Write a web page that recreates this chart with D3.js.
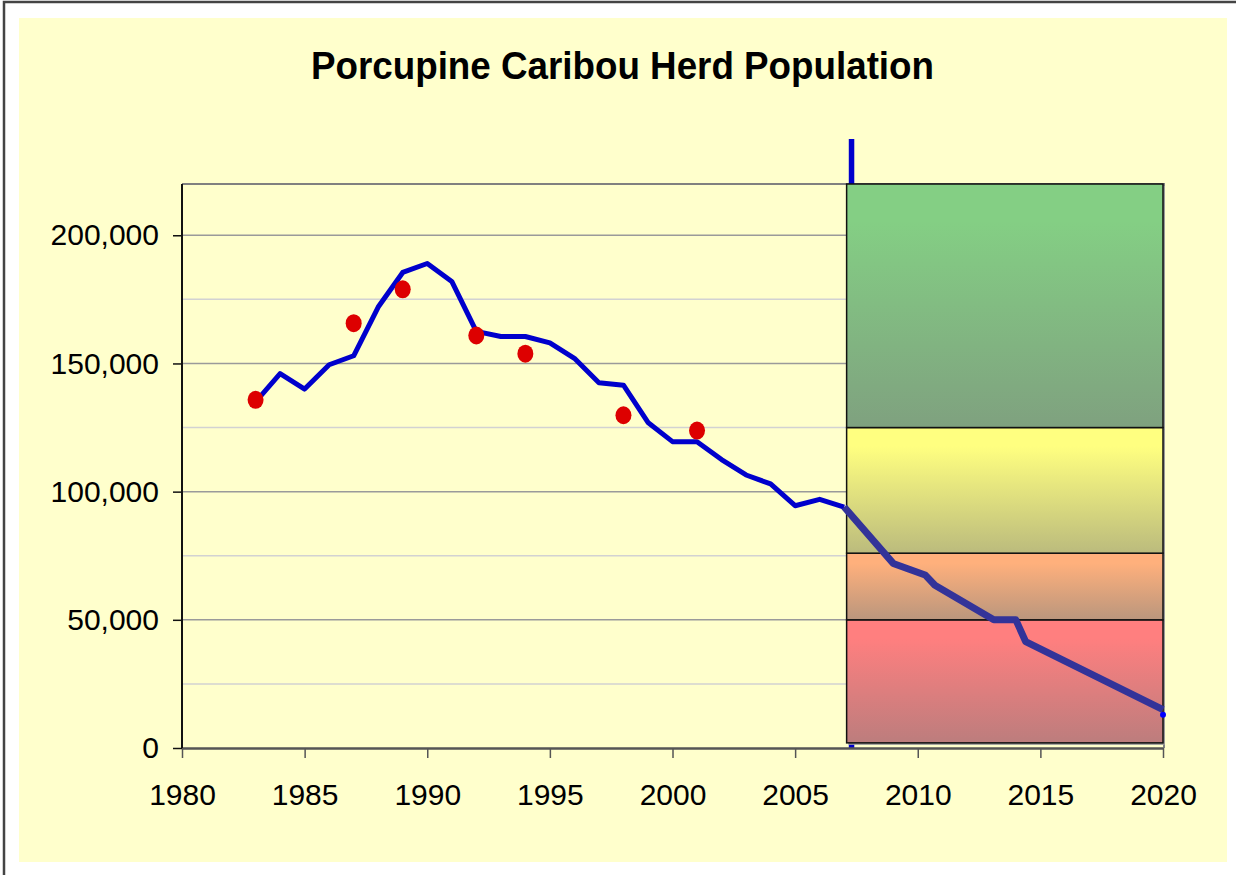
<!DOCTYPE html>
<html>
<head>
<meta charset="utf-8">
<script src="https://cdnjs.cloudflare.com/ajax/libs/d3/7.8.5/d3.min.js"></script>
<style>
  body { margin: 0; background: #fff; }
  text { font-family: "Liberation Sans", Arial, sans-serif; }
</style>
</head>
<body>
<div id="chart"></div>
<script>
// data
const histYears = [1983, 1984, 1985, 1986, 1987, 1988, 1989, 1990, 1991, 1992, 1993, 1994, 1995,
                   1996, 1997, 1998, 1999, 2000, 2001, 2002, 2003, 2004, 2005, 2006, 2007]
const histValues = [135000, 146000, 140000, 149500, 153000, 172000, 185500, 189000, 182000, 162500, 160500, 160500, 158000,
                    152000, 142500, 141500, 127000, 119500, 119500, 112500, 106500, 103000, 94500, 97000, 94000]

const projYears = [2007, 2009, 2010.3, 2010.7, 2013.1, 2014, 2014.4, 2020]
const projValues = [94000, 72000, 67500, 63500, 50000, 50000, 41500, 15000]
const endMarker = [2020, 13000]

const surveyYears = [1983, 1987, 1989, 1992, 1994, 1998, 2001]
const surveyValues = [135800, 165700, 178900, 160900, 153800, 129800, 123800]

const nowYear = 2007.3
const bandStart = 2007.1
const bandEnd = 2020
const bandLow = [2000, 50000, 76000, 125000]
const bandHigh = [50000, 76000, 125000, 220000]
const bandTop = ["#FF7F7F", "#FFB07C", "#FFFF80", "#84CF84"]
const bandBottom = ["#BC7D7D", "#BA967D", "#BBBB7D", "#7FA17F"]

const xTicks = [1980, 1985, 1990, 1995, 2000, 2005, 2010, 2015, 2020]
const yTicks = [0, 50000, 100000, 150000, 200000]
const gridValues = [25000, 50000, 75000, 100000, 125000, 150000, 175000, 200000]

const width = 1236
const height = 875
const plotLeft = 182, plotRight = 1163, plotTop = 184, plotBottom = 748

const svg = d3.select("#chart").append("svg")
  .attr("width", width)
  .attr("height", height)

const xScale = d3.scaleLinear().domain([1980, 2020]).range([plotLeft, plotRight])
const yScale = d3.scaleLinear().domain([0, 220000]).range([plotBottom, plotTop])

// frame + background
svg.append("rect").attr("x", 0).attr("y", 0).attr("width", width).attr("height", height).attr("fill", "#fff")
svg.append("path")
  .attr("d", "M4," + height + "V2H" + width)
  .attr("fill", "none").attr("stroke", "#444").attr("stroke-width", 2.5)
svg.append("rect")
  .attr("x", 19).attr("y", 18).attr("width", 1208).attr("height", 844)
  .attr("fill", "#FFFFCC")

svg.append("text")
  .text("Porcupine Caribou Herd Population")
  .attr("x", 622.5).attr("y", 79)
  .attr("text-anchor", "middle")
  .attr("font-size", 38).attr("font-weight", "bold")
  .attr("textLength", 623).attr("lengthAdjust", "spacingAndGlyphs")

// gridlines
svg.append("g").selectAll("line")
  .data(gridValues).enter().append("line")
    .attr("x1", plotLeft).attr("x2", plotRight)
    .attr("y1", d => yScale(d)).attr("y2", d => yScale(d))
    .attr("stroke", d => d % 50000 === 0 ? "#9a9a9a" : "#d2d2d2")
    .attr("stroke-width", 1.5)

// plot border top / right
svg.append("path")
  .attr("d", "M" + plotLeft + "," + plotTop + "H" + (plotRight + 1) + "V" + plotBottom)
  .attr("fill", "none").attr("stroke", "#808080").attr("stroke-width", 2)

// "now" marker
svg.append("line")
  .attr("x1", xScale(nowYear)).attr("x2", xScale(nowYear))
  .attr("y1", 139).attr("y2", plotBottom)
  .attr("stroke", "#0000CC").attr("stroke-width", 5.5)

// status bands
const defs = svg.append("defs")
bandLow.forEach((d, i) => {
  const g = defs.append("linearGradient").attr("id", "band" + i)
    .attr("x1", 0).attr("x2", 0).attr("y1", 0).attr("y2", 1)
  g.append("stop").attr("offset", "0%").attr("stop-color", bandTop[i])
  g.append("stop").attr("offset", "15%").attr("stop-color", bandTop[i])
  g.append("stop").attr("offset", "100%").attr("stop-color", bandBottom[i])
})

const bands = svg.append("g")
bands.selectAll(".shadow")
  .data(bandLow).enter().append("rect")
    .attr("class", "shadow")
    .attr("x", xScale(bandStart) + 2)
    .attr("y", (d, i) => yScale(bandHigh[i]) + 2)
    .attr("width", xScale(bandEnd) - xScale(bandStart))
    .attr("height", (d, i) => yScale(d) - yScale(bandHigh[i]))
    .attr("fill", "#9a9a9a")
bands.selectAll(".band")
  .data(bandLow).enter().append("rect")
    .attr("class", "band")
    .attr("x", xScale(bandStart))
    .attr("y", (d, i) => yScale(bandHigh[i]))
    .attr("width", xScale(bandEnd) - xScale(bandStart))
    .attr("height", (d, i) => yScale(d) - yScale(bandHigh[i]))
    .attr("fill", (d, i) => "url(#band" + i + ")")
    .attr("stroke", "#111").attr("stroke-width", 1.5)

// axes
const xAxis = d3.axisBottom(xScale).tickValues(xTicks).tickFormat(d3.format("d")).tickSize(10).tickSizeOuter(0).tickPadding(26)
const gx = svg.append("g")
  .attr("transform", "translate(0," + plotBottom + ")")
  .call(xAxis)
gx.select(".domain").attr("stroke", "#555").attr("stroke-width", 2.5)
gx.selectAll(".tick line").attr("stroke", "#555").attr("stroke-width", 1.5)
gx.selectAll("text").attr("font-size", 30).attr("fill", "#000").attr("font-family", "Liberation Sans, Arial, sans-serif")

const yAxis = d3.axisLeft(yScale).tickValues(yTicks).tickFormat(d3.format(",")).tickSize(9).tickSizeOuter(0).tickPadding(14)
const gy = svg.append("g")
  .attr("transform", "translate(" + plotLeft + ",0)")
  .call(yAxis)
gy.select(".domain").attr("stroke", "#111").attr("stroke-width", 2)
  .attr("d", "M0," + plotTop + "V" + plotBottom)
gy.selectAll(".tick line").attr("stroke", "#111").attr("stroke-width", 1.5)
gy.selectAll("text").attr("font-size", 30).attr("fill", "#000").attr("font-family", "Liberation Sans, Arial, sans-serif")

// lines
const line = d3.line().x(d => xScale(d[0])).y(d => yScale(d[1]))

svg.append("path")
  .datum(histYears.map((d, i) => [d, histValues[i]]))
  .attr("d", line)
  .attr("fill", "none").attr("stroke", "#0000CC").attr("stroke-width", 5)
  .attr("stroke-linejoin", "round")

svg.append("g").selectAll("ellipse")
  .data(surveyYears).enter().append("ellipse")
    .attr("cx", d => xScale(d))
    .attr("cy", (d, i) => yScale(surveyValues[i]))
    .attr("rx", 8).attr("ry", 9)
    .attr("fill", "#DD0000")

svg.append("path")
  .datum(projYears.map((d, i) => [d, projValues[i]]))
  .attr("d", line)
  .attr("fill", "none").attr("stroke", "#333399").attr("stroke-width", 7)
  .attr("stroke-linejoin", "round")

svg.append("circle")
  .attr("cx", xScale(endMarker[0])).attr("cy", yScale(endMarker[1]))
  .attr("r", 3).attr("fill", "#0000FF")
</script>
</body>
</html>
